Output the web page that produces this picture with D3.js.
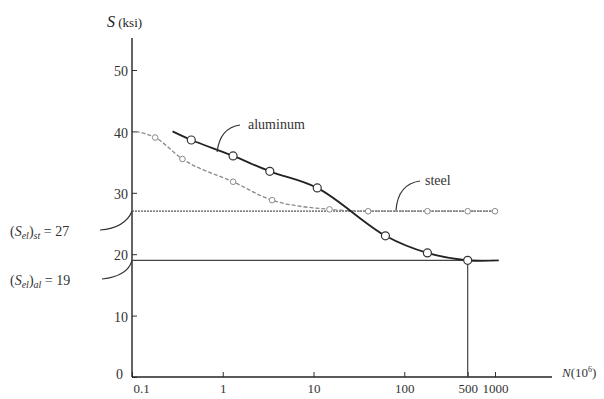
<!DOCTYPE html>
<html>
<head>
<meta charset="utf-8">
<script src="https://cdn.jsdelivr.net/npm/d3@7"></script>
<style>
  body { margin: 0; background: #fff; }
  svg { display: block; }
  text { font-family: 'Liberation Serif', 'DejaVu Serif', serif; }
</style>
</head>
<body>
<svg id="chart" width="604" height="399"></svg>
<script>
// S-N fatigue curves: N in 10^6 cycles, S in ksi
const xTicks = [0.1, 1, 10, 100, 500, 1000];
const yTicks = [0, 10, 20, 30, 40, 50];

const aluminumN = [0.28, 0.45, 1.3, 3.3, 11, 62, 180, 500, 1100];
const aluminumS = [40, 38.6, 36, 33.5, 30.8, 23, 20.2, 19, 19];
const aluminumMarked = [0, 1, 1, 1, 1, 1, 1, 1, 0];

const steelN = [0.11, 0.18, 0.36, 1.3, 3.5, 15, 40, 180, 500, 1000];
const steelS = [40, 39, 35.5, 31.8, 28.8, 27.3, 27, 27, 27, 27];
const steelMarked = [0, 1, 1, 1, 1, 1, 1, 1, 1, 1];

const enduranceSteel = 27;
const enduranceAl = 19;
const enduranceAlN = 500;
const enduranceEndN = 1000;

const svg = d3.select('#chart');

const x = d3.scaleLog().domain([0.1, 1000]).range([132, 495]);
const y = d3.scaleLinear().domain([0, 50]).range([377, 70]);

// axes (d3 puts sans-serif on the group, drop it)
const gx = svg.append('g')
  .attr('transform', `translate(0,${y(0)})`)
  .call(d3.axisBottom(x).tickValues(xTicks).tickFormat(d => String(d))
    .tickSizeInner(-5).tickSizeOuter(0).tickPadding(7));
gx.attr('font-family', null).attr('font-size', 13);
gx.select('.domain').remove();
gx.selectAll('.tick line').attr('stroke', '#333');
gx.selectAll('.tick text').attr('fill', '#333')
  .attr('dx', d => d === 0.1 ? 9 : 0);

const gy = svg.append('g')
  .attr('transform', `translate(${x(0.1)},0)`)
  .call(d3.axisLeft(y).tickValues(yTicks).tickSizeInner(-5).tickSizeOuter(0).tickPadding(4));
gy.attr('font-family', null).attr('font-size', 14);
gy.select('.domain').remove();
gy.selectAll('.tick line').attr('stroke', '#333');
gy.selectAll('.tick text').attr('fill', '#333')
  .attr('dy', d => d === 0 ? '0.1em' : '0.4em')
  .attr('dx', d => d === 0 ? -5 : 0);

svg.append('line')
  .attr('x1', x(0.1)).attr('x2', 552)
  .attr('y1', y(0)).attr('y2', y(0))
  .attr('stroke', '#222').attr('stroke-width', 1.4);
svg.append('line')
  .attr('x1', x(0.1)).attr('x2', x(0.1))
  .attr('y1', 38).attr('y2', y(0))
  .attr('stroke', '#222').attr('stroke-width', 1.4);

// axis titles
const yTitle = svg.append('text').attr('x', 107).attr('y', 27).attr('fill', '#222');
yTitle.append('tspan').text('S').attr('font-style', 'italic').attr('font-size', 16);
yTitle.append('tspan').text(' (ksi)').attr('font-size', 13);

const xTitle = svg.append('text').attr('x', 562).attr('y', 377).attr('fill', '#333').attr('font-size', 13);
xTitle.append('tspan').text('N').attr('font-style', 'italic');
xTitle.append('tspan').text('(10');
xTitle.append('tspan').text('6').attr('font-size', 8).attr('dy', -5);
xTitle.append('tspan').text(')').attr('dy', 5);

// endurance limits
svg.append('line')
  .attr('x1', x(0.1)).attr('x2', x(enduranceEndN))
  .attr('y1', y(enduranceSteel)).attr('y2', y(enduranceSteel))
  .attr('stroke', '#555').attr('stroke-width', 1.3).attr('stroke-dasharray', '2,1');
svg.append('line')
  .attr('x1', x(0.1)).attr('x2', x(enduranceEndN))
  .attr('y1', y(enduranceAl)).attr('y2', y(enduranceAl))
  .attr('stroke', '#444').attr('stroke-width', 1.2);
svg.append('line')
  .attr('x1', x(enduranceAlN)).attr('x2', x(enduranceAlN))
  .attr('y1', y(enduranceAl)).attr('y2', y(0))
  .attr('stroke', '#444').attr('stroke-width', 1.2);

const line = d3.line()
  .x(d => x(d[0]))
  .y(d => y(d[1]))
  .curve(d3.curveMonotoneX);

// steel curve
const steel = steelN.map((n, i) => [n, steelS[i], steelMarked[i]]);
svg.append('path')
  .datum(steel)
  .attr('d', line)
  .attr('fill', 'none')
  .attr('stroke', '#8a8a8a')
  .attr('stroke-width', 1.3)
  .attr('stroke-dasharray', '4,2');
svg.selectAll('.steel-pt')
  .data(steel.filter(d => d[2]))
  .join('circle')
  .attr('class', 'steel-pt')
  .attr('cx', d => x(d[0]))
  .attr('cy', d => y(d[1]))
  .attr('r', 2.8)
  .attr('fill', '#fff')
  .attr('stroke', '#8a8a8a')
  .attr('stroke-width', 1);

// aluminum curve
const aluminum = aluminumN.map((n, i) => [n, aluminumS[i], aluminumMarked[i]]);
svg.append('path')
  .datum(aluminum)
  .attr('d', line.curve(d3.curveCatmullRom))
  .attr('fill', 'none')
  .attr('stroke', '#222')
  .attr('stroke-width', 1.8);
svg.selectAll('.al-pt')
  .data(aluminum.filter(d => d[2]))
  .join('circle')
  .attr('class', 'al-pt')
  .attr('cx', d => x(d[0]))
  .attr('cy', d => y(d[1]))
  .attr('r', 4)
  .attr('fill', '#fff')
  .attr('stroke', '#333')
  .attr('stroke-width', 1.2);

// labels with leaders
function leader(x1, y1, x2, y2, cx, cy) {
  svg.append('path')
    .attr('d', `M${x1},${y1} Q${cx},${cy} ${x2},${y2}`)
    .attr('fill', 'none')
    .attr('stroke', '#333')
    .attr('stroke-width', 1.2);
}

svg.append('text').attr('x', 248).attr('y', 129).attr('font-size', 14).attr('fill', '#333')
  .text('aluminum');
leader(x(1.3) - 16, y(37) + 2, 240, 125, 220, 128);

svg.append('text').attr('x', 425).attr('y', 185).attr('font-size', 14).attr('fill', '#333')
  .text('steel');
leader(396, y(enduranceSteel) - 1, 420, 181, 398, 184);

function limitLabel(ty, sub2, val) {
  const t = svg.append('text').attr('x', 10).attr('y', ty).attr('font-size', 14).attr('fill', '#333');
  t.append('tspan').text('(');
  t.append('tspan').text('S').attr('font-style', 'italic');
  t.append('tspan').text('el').attr('font-style', 'italic').attr('font-size', 10).attr('dy', 3);
  t.append('tspan').text(')').attr('dy', -3);
  t.append('tspan').text(sub2).attr('font-style', 'italic').attr('font-size', 10).attr('dy', 3);
  t.append('tspan').text(' = ' + val).attr('dy', -3);
}
limitLabel(236, 'st', enduranceSteel);
leader(100, 230, x(0.1), y(enduranceSteel), 125, 228);
limitLabel(285, 'al', enduranceAl);
leader(102, 279, x(0.1), y(enduranceAl), 128, 276);
</script>
</body>
</html>
